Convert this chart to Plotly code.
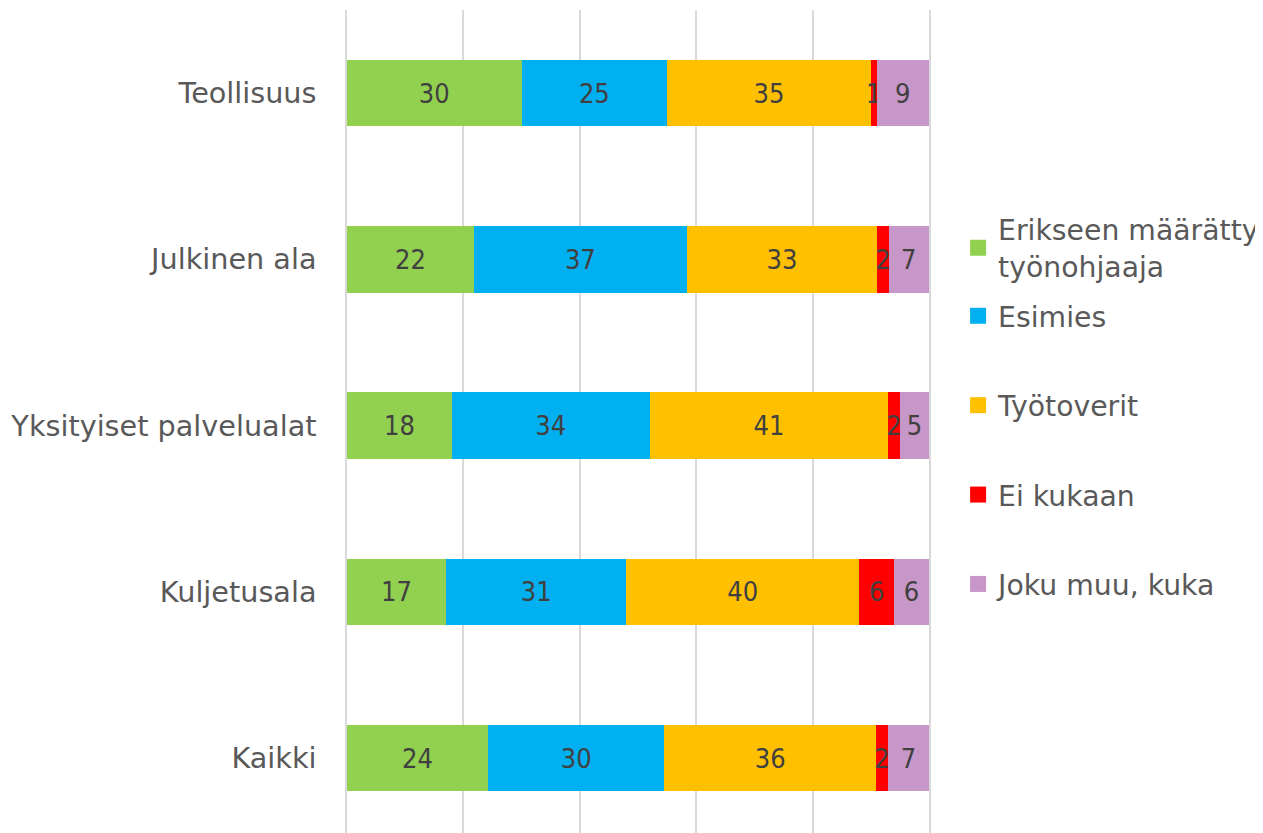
import plotly.graph_objects as go

categories = ["Teollisuus", "Julkinen ala", "Yksityiset palvelualat", "Kuljetusala", "Kaikki"]
series_names = ["Erikseen määrätty<br>työnohjaaja", "Esimies", "Työtoverit", "Ei kukaan", "Joku muu, kuka"]
erikseen = [30, 22, 18, 17, 24]
esimies = [25, 37, 34, 31, 30]
tyotoverit = [35, 33, 41, 40, 36]
ei_kukaan = [1, 2, 2, 6, 2]
joku_muu = [9, 7, 5, 6, 7]
series_values = [erikseen, esimies, tyotoverit, ei_kukaan, joku_muu]
colors = ["#92D050", "#00B0F0", "#FFC000", "#FF0000", "#C897C9"]

LABEL_FONT = "DejaVu Sans Condensed, Liberation Sans Narrow, DejaVu Sans"

fig = go.Figure()
for i, (name, vals, col) in enumerate(zip(series_names, series_values, colors)):
    fig.add_trace(go.Bar(
        y=categories, x=vals, name=name, orientation="h",
        marker=dict(color=col, line=dict(width=0)),
        text=[str(v) for v in vals], textposition="inside",
        insidetextanchor="middle",
        textfont=dict(family=LABEL_FONT, size=27, color="#404040"),
        showlegend=False,
    ))
# legend entries (square swatches)
for i, (name, col) in enumerate(zip(series_names, colors)):
    fig.add_trace(go.Scatter(
        x=[None], y=[None], mode="markers", name=name,
        marker=dict(symbol="square", size=16, color=col),
        legend="legend" if i == 0 else "legend2",
        legendgroup=f"g{i}", showlegend=True,
    ))

legend_font = dict(family="DejaVu Sans", size=28.3, color="#595959")
fig.update_layout(
    width=1263, height=833,
    barmode="stack", barnorm="percent", bargap=0.6,
    uniformtext=dict(minsize=27, mode="show"),
    paper_bgcolor="white", plot_bgcolor="white",
    margin=dict(l=339, r=342, t=2, b=0),
    font=dict(family="DejaVu Sans", color="#595959"),
    legend=dict(
        x=1.05, xanchor="left", y=0.766, yanchor="top",
        font=legend_font, itemwidth=30, bgcolor="rgba(0,0,0,0)",
    ),
    legend2=dict(
        x=1.05, xanchor="left", y=0.662, yanchor="top",
        traceorder="grouped", tracegroupgap=49.6,
        font=legend_font, itemwidth=30, bgcolor="rgba(0,0,0,0)",
    ),
    xaxis=dict(range=[0, 100], dtick=20, showgrid=True, gridcolor="#D9D9D9", gridwidth=1.5,
               showticklabels=False, zeroline=False, showline=False, fixedrange=True),
    yaxis=dict(categoryorder="array", categoryarray=categories, range=[4.498, -0.5],
               showline=True, mirror=True, linecolor="#D9D9D9", linewidth=1.5,
               ticks="", ticklabelstandoff=23,
               tickfont=dict(family="DejaVu Sans", size=28.7, color="#595959")),
)

fig.write_html("out.html")
